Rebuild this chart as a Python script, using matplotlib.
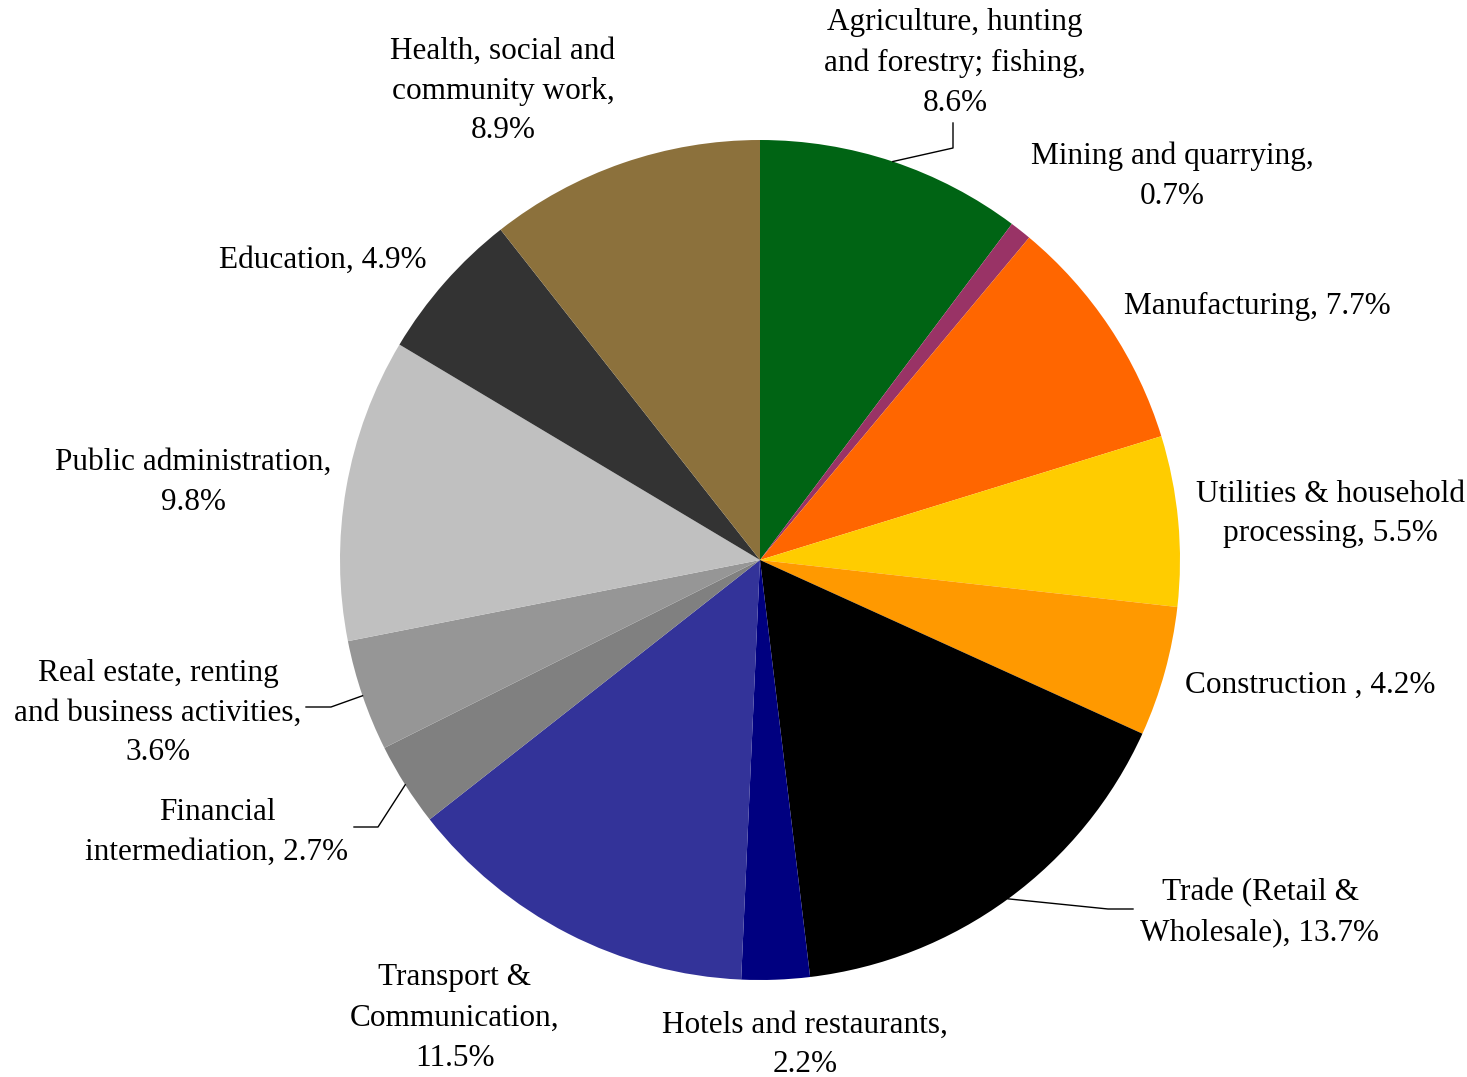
import numpy as np
import matplotlib
matplotlib.use("Agg")
import matplotlib.pyplot as plt

plt.rcParams['font.family'] = ['Liberation Serif', 'DejaVu Serif']

categories = ["Agriculture, hunting\nand forestry; fishing,", "Mining and quarrying,", "Manufacturing,",
              "Utilities & household\nprocessing,", "Construction ,", "Trade (Retail &\nWholesale),",
              "Hotels and restaurants,", "Transport &\nCommunication,", "Financial\nintermediation,",
              "Real estate, renting\nand business activities,", "Public administration,", "Education,",
              "Health, social and\ncommunity work,"]
values = [8.6, 0.7, 7.7, 5.5, 4.2, 13.7, 2.2, 11.5, 2.7, 3.6, 9.8, 4.9, 8.9]
colors = ["#006414", "#993366", "#FF6600", "#FFCC00", "#FF9900", "#000000", "#000080",
          "#333399", "#808080", "#969696", "#C0C0C0", "#333333", "#8C713C"]
# how the percentage joins the label: newline or same line
joiners = ["\n", "\n", " ", " ", " ", " ", "\n", "\n", " ", "\n", "\n", " ", "\n"]

W, H = 1467, 1077
fig = plt.figure(figsize=(W / 100, H / 100), dpi=100)
ax = fig.add_axes([0, 0, 1, 1])

cx, cy, R = 760, H - 560, 420
wedges, _ = ax.pie(values, colors=colors, startangle=90, counterclock=False,
                   radius=R, center=(cx, cy), frame=True,
                   wedgeprops=dict(linewidth=0))
ax.set_xlim(0, W)
ax.set_ylim(0, H)
ax.set_aspect('equal')
ax.axis('off')

# label centre positions (pixels, top-left origin)
label_pos = [(955, 63), (1172, 176), (1257, 306), (1330, 514), (1310, 685), (1260, 913),
             (805, 1045), (455, 1018), (217, 832), (158, 713), (193, 482), (323, 260), (503, 91)]
# leader elbows (pixels) for some labels: (elbow, end)
leaders = {0: [(953, 148), (953, 123)],
           5: [(1108, 909), (1133, 909)],
           8: [(378, 827), (354, 827)],
           9: [(331, 707), (306, 707)]}

for i, (cat, v) in enumerate(zip(categories, values)):
    txt = f"{cat}{joiners[i]}{v:.1f}%"
    x, y = label_pos[i]
    ax.text(x, H - y, txt, ha='center', va='center', fontsize=22.5,
            linespacing=1.5, color='black')
    if i in leaders:
        w = wedges[i]
        mid = np.deg2rad((w.theta1 + w.theta2) / 2)
        sx, sy = cx + R * np.cos(mid), cy + R * np.sin(mid)
        pts = [(sx, sy)] + [(px, H - py) for px, py in leaders[i]]
        xs, ys = zip(*pts)
        ax.plot(xs, ys, color='black', linewidth=1.0)

fig.savefig("out.png", dpi=100, facecolor='white')
